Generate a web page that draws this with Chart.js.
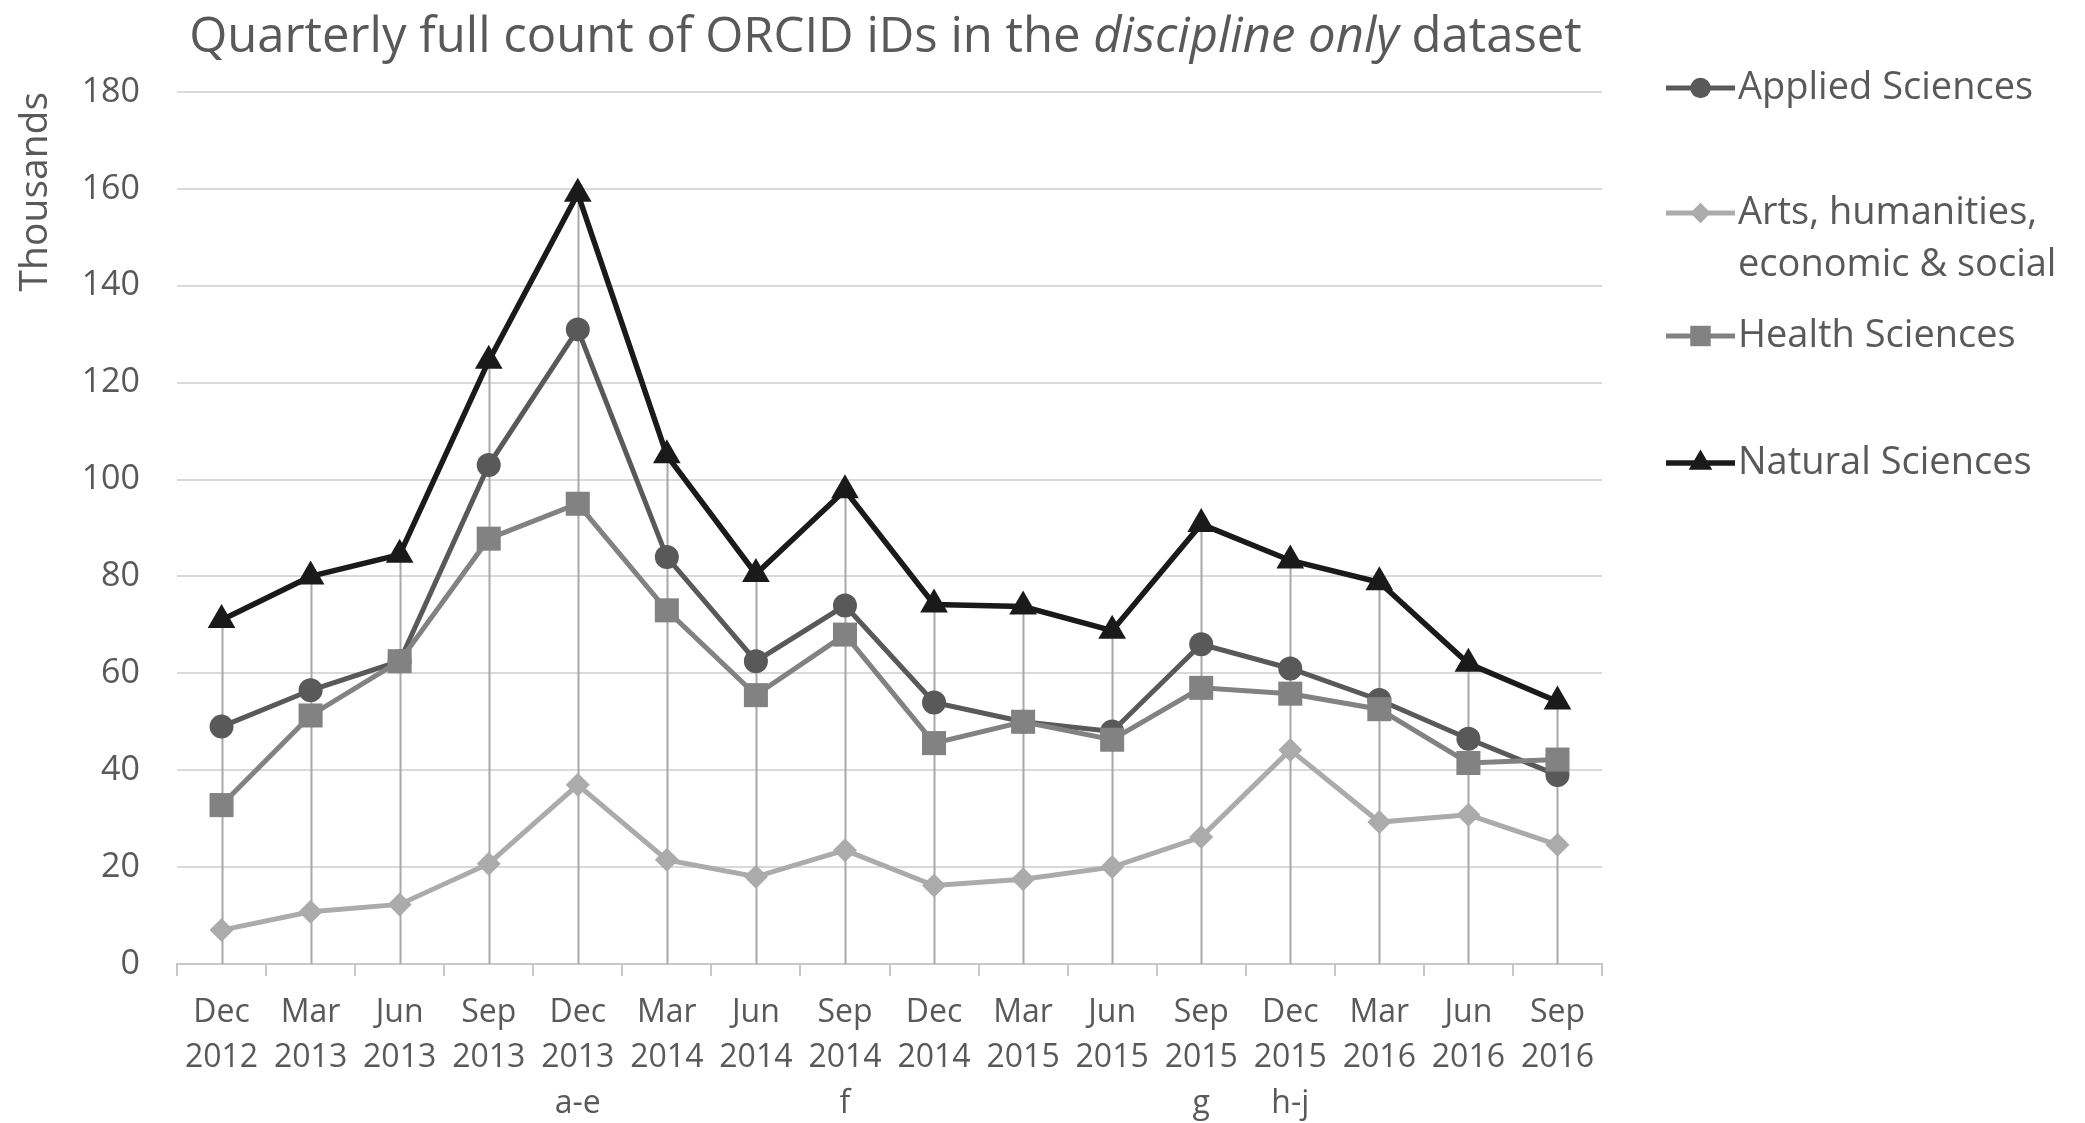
<!DOCTYPE html>
<html>
<head>
<meta charset="utf-8">
<title>Quarterly full count of ORCID iDs</title>
<script src="https://cdn.jsdelivr.net/npm/chart.js@4.4.1/dist/chart.umd.min.js"></script>
<style>
  html, body { margin: 0; padding: 0; background: #fff; }
  canvas { display: block; }
</style>
</head>
<body>
<canvas id="orcid-chart" width="2085" height="1123"></canvas>
<script>
// Quarter labels: month, year and (optional) footnote marks
const quarters = [
    ["Dec", "2012"], ["Mar", "2013"], ["Jun", "2013"], ["Sep", "2013"],
    ["Dec", "2013", "a-e"], ["Mar", "2014"], ["Jun", "2014"], ["Sep", "2014", "f"],
    ["Dec", "2014"], ["Mar", "2015"], ["Jun", "2015"], ["Sep", "2015", "g"],
    ["Dec", "2015", "h-j"], ["Mar", "2016"], ["Jun", "2016"], ["Sep", "2016"]
];

// Series values, in thousands of ORCID iDs
const appliedSciences = [49, 56.5, 62.5, 103, 131, 84, 62.5, 74, 54, 50, 48, 66, 61, 54.5, 46.5, 39];
const artsHumanities = [7, 10.8, 12.3, 20.7, 37, 21.5, 18, 23.5, 16.2, 17.5, 20, 26.2, 44.2, 29.3, 30.8, 24.6];
const healthSciences = [32.8, 51.3, 62.5, 87.8, 95, 73, 55.5, 68, 45.6, 50, 46.3, 57, 55.8, 52.6, 41.5, 42.2];
const naturalSciences = [71, 80, 84.5, 124.5, 159, 105, 80.5, 97.8, 74.2, 73.8, 68.8, 90.8, 83.3, 78.8, 62, 54.2];

// Y axis ticks
const yMin = 0;
const yMax = 180;
const yStep = 20;

const textColor = '#595959';
const fontFamily = '"Open Sans", "Noto Sans", sans-serif';

const allSeries = [appliedSciences, artsHumanities, healthSciences, naturalSciences];

// Excel style drop lines from the highest point down to the axis
const dropLines = {
    id: 'dropLines',
    beforeDatasetsDraw(chart) {
        const { ctx, scales: { x, y } } = chart;
        ctx.save();
        ctx.strokeStyle = '#a8a8a8';
        ctx.lineWidth = 2;
        quarters.forEach((q, i) => {
            const top = Math.max(...allSeries.map(s => s[i]));
            const px = Math.round(x.getPixelForValue(i)) + 0.5;
            ctx.beginPath();
            ctx.moveTo(px, y.getPixelForValue(top));
            ctx.lineTo(px, y.getPixelForValue(yMin));
            ctx.stroke();
        });
        ctx.restore();
    }
};

// Title with the italic part in the middle
const mixedTitle = {
    id: 'mixedTitle',
    afterDraw(chart) {
        const { ctx, chartArea } = chart;
        const parts = [
            { text: 'Quarterly full count of ORCID iDs in the ', style: '' },
            { text: 'discipline only', style: 'italic ' },
            { text: ' dataset', style: '' }
        ];
        const size = 49;
        ctx.save();
        ctx.fillStyle = textColor;
        ctx.textBaseline = 'alphabetic';
        let total = 0;
        parts.forEach(p => {
            ctx.font = `${p.style}${size}px ${fontFamily}`;
            p.width = ctx.measureText(p.text).width;
            total += p.width;
        });
        let x = (chartArea.left + chartArea.right) / 2 - total / 2 - 4;
        parts.forEach(p => {
            ctx.font = `${p.style}${size}px ${fontFamily}`;
            ctx.fillText(p.text, x, 52);
            x += p.width;
        });
        ctx.restore();
    }
};

function drawMarker(ctx, style, cx, cy, r) {
    ctx.beginPath();
    if (style === 'circle') {
        ctx.arc(cx, cy, r, 0, Math.PI * 2);
    } else if (style === 'rect') {
        const s = r * Math.SQRT1_2;
        ctx.rect(cx - s, cy - s, s * 2, s * 2);
    } else if (style === 'rectRot') {
        ctx.moveTo(cx, cy - r);
        ctx.lineTo(cx + r, cy);
        ctx.lineTo(cx, cy + r);
        ctx.lineTo(cx - r, cy);
        ctx.closePath();
    } else if (style === 'triangle') {
        const h = r * 1.5, w = r * Math.sqrt(3);
        ctx.moveTo(cx, cy - r);
        ctx.lineTo(cx + w / 2, cy - r + h);
        ctx.lineTo(cx - w / 2, cy - r + h);
        ctx.closePath();
    }
    ctx.fill();
}

// Legend on the right, as in the original figure
const sideLegend = {
    id: 'sideLegend',
    afterDraw(chart) {
        const { ctx, chartArea } = chart;
        const rows = [
            { ds: 0, lines: ['Applied Sciences'], y: 88 },
            { ds: 1, lines: ['Arts, humanities,', 'economic & social'], y: 213 },
            { ds: 2, lines: ['Health Sciences'], y: 336 },
            { ds: 3, lines: ['Natural Sciences'], y: 463 }
        ];
        const x0 = chartArea.right + 64;
        const x1 = x0 + 69;
        ctx.save();
        rows.forEach(row => {
            const ds = chart.data.datasets[row.ds];
            ctx.strokeStyle = ds.borderColor;
            ctx.fillStyle = ds.borderColor;
            ctx.lineWidth = ds.borderWidth;
            ctx.beginPath();
            ctx.moveTo(x0, row.y);
            ctx.lineTo(x1, row.y);
            ctx.stroke();
            drawMarker(ctx, ds.pointStyle, (x0 + x1) / 2, row.y, ds.pointRadius * 0.85);
            ctx.fillStyle = textColor;
            ctx.font = `38px ${fontFamily}`;
            ctx.textBaseline = 'middle';
            ctx.textAlign = 'left';
            row.lines.forEach((line, i) => ctx.fillText(line, x1 + 3, row.y + i * 52));
        });
        ctx.restore();
    }
};

function series(label, data, color, pointStyle, radius, width, order) {
    return {
        label: label,
        data: data,
        borderColor: color,
        backgroundColor: color,
        pointBackgroundColor: color,
        pointBorderColor: color,
        pointStyle: pointStyle,
        pointRadius: radius,
        pointBorderWidth: 0,
        borderWidth: width,
        tension: 0,
        order: order
    };
}

new Chart(document.getElementById('orcid-chart'), {
    type: 'line',
    data: {
        labels: quarters,
        datasets: [
            series('Applied Sciences', appliedSciences, '#595959', 'circle', 12, 5, 3),
            series('Arts, humanities, economic & social', artsHumanities, '#ababab', 'rectRot', 12, 5, 2),
            series('Health Sciences', healthSciences, '#828282', 'rect', 17, 5, 1),
            series('Natural Sciences', naturalSciences, '#1a1a1a', 'triangle', 16, 5.5, 0)
        ]
    },
    options: {
        responsive: false,
        animation: false,
        devicePixelRatio: 1,
        layout: { padding: { top: 92, right: 483, bottom: 0, left: 0 } },
        plugins: {
            legend: { display: false },
            title: { display: false },
            tooltip: { enabled: false }
        },
        scales: {
            x: {
                offset: true,
                grid: {
                    drawOnChartArea: false,
                    drawTicks: true,
                    tickLength: 12,
                    color: '#c8c8c8',
                    lineWidth: 2,
                    offset: true
                },
                border: { display: true, color: '#c8c8c8', width: 2 },
                ticks: {
                    color: textColor,
                    font: { family: fontFamily, size: 32, lineHeight: 1.42 },
                    padding: 14,
                    maxRotation: 0,
                    autoSkip: false
                },
                afterFit(scale) { scale.height = 159; }
            },
            y: {
                min: yMin,
                max: yMax,
                ticks: {
                    stepSize: yStep,
                    color: textColor,
                    font: { family: fontFamily, size: 34 },
                    padding: 37
                },
                grid: { color: '#d9d9d9', lineWidth: 2, drawTicks: false },
                border: { display: false },
                title: {
                    display: true,
                    text: 'Thousands',
                    align: 'end',
                    color: textColor,
                    font: { family: fontFamily, size: 39 },
                    padding: { top: 12, bottom: 0 }
                },
                afterFit(scale) { scale.width = 177; }
            }
        }
    },
    plugins: [dropLines, mixedTitle, sideLegend]
});
</script>
</body>
</html>
